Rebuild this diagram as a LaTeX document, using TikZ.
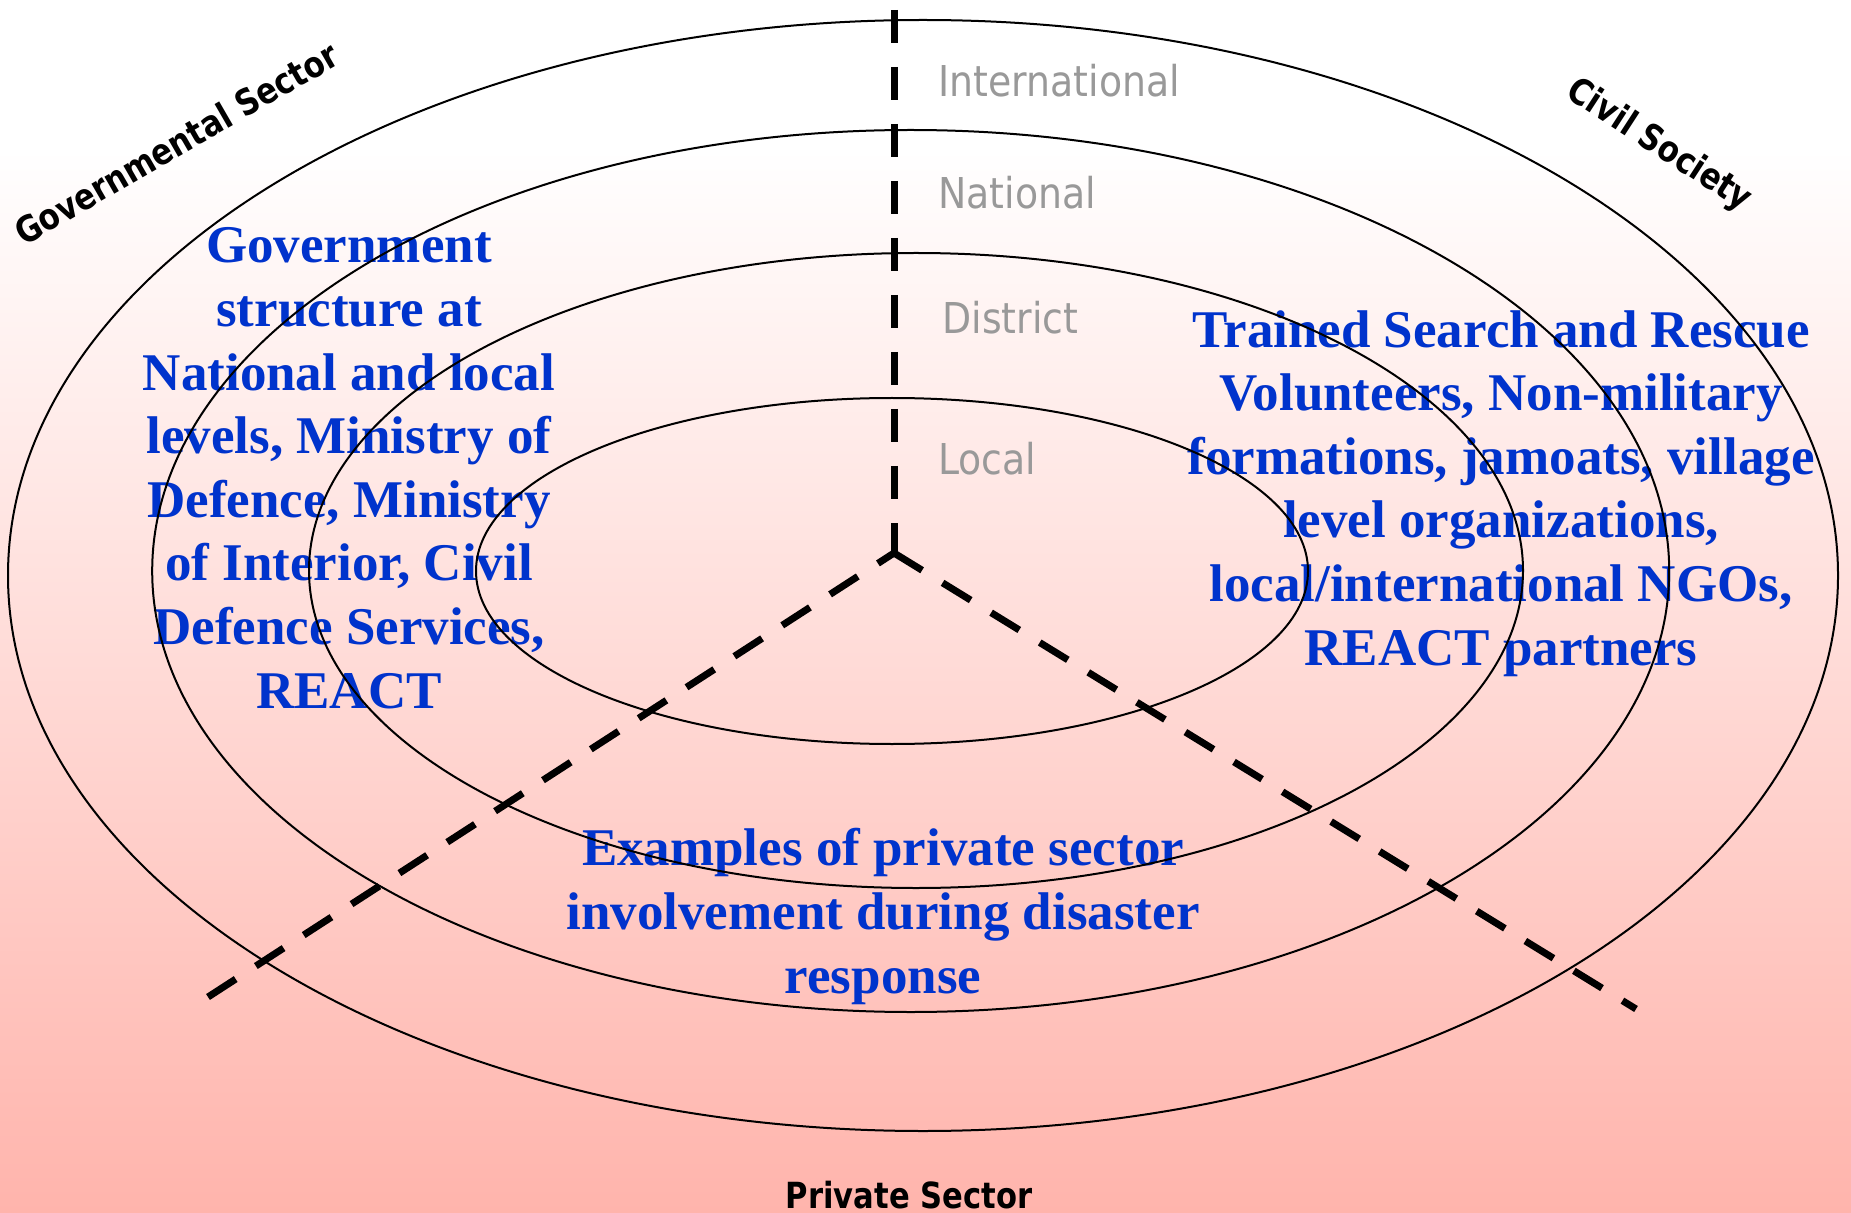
\documentclass[tikz,border=0pt]{standalone}
\usepackage{fontspec}
\setmainfont{Liberation Serif}
\newfontfamily\levelfont{DejaVu Sans}[FakeStretch=0.89]
\newfontfamily\sectorfont{DejaVu Sans}[FakeStretch=0.85]
\newfontfamily\bodyfont{Liberation Serif}
\definecolor{levelgray}{RGB}{153,153,153}
\definecolor{bodyblue}{RGB}{0,51,204}
\definecolor{pinkbase}{RGB}{255,180,172}
\tikzset{
  ring/.style={draw=black, line width=1pt},
  divider/.style={draw=black, line width=3.5pt, dash pattern=on 16.5pt off 12pt},
  levellabel/.style={anchor=base west, inner sep=0pt, text=levelgray,
    font=\levelfont\fontsize{21.25pt}{25pt}\selectfont},
  sectorlabel/.style={inner sep=0pt, text=black,
    font=\sectorfont\bfseries\fontsize{18pt}{22pt}\selectfont},
  % base anchor of a multi-line block sits on its last line
  bodytext/.style={anchor=base, inner sep=0pt, align=center, text=bodyblue,
    font=\bodyfont\bfseries\fontsize{26.5pt}{31.8pt}\selectfont}
}
\begin{document}
\begin{tikzpicture}[x=0.5pt, y=-0.5pt]
\useasboundingbox (0,0) rectangle (1851,1213);
% background: white at the top fading into salmon pink
\fill[white] (0,0) rectangle (1851,150);
\shade[top color=white, bottom color=pinkbase] (0,149) rectangle (1851,1213);

% sector descriptions
\node[bodytext] (gov) at (349,708) {Government\\structure at\\National and local\\levels, Ministry of\\Defence, Ministry\\of Interior, Civil\\Defence Services,\\REACT};
\node[bodytext] (civ) at (1501,665) {Trained Search and Rescue\\Volunteers, Non-military\\formations, jamoats, village\\level organizations,\\local/international NGOs,\\REACT partners};
\node[bodytext] (priv) at (883,993) {Examples of private sector\\involvement during disaster\\response};

% concentric levels
\draw[ring] (923,575.5) ellipse [x radius=915, y radius=555.5];
\draw[ring] (910.7,571) ellipse [x radius=758.5, y radius=441];
\draw[ring] (916,570.5) ellipse [x radius=607, y radius=317.5];
\draw[ring] (892,571) ellipse [x radius=416, y radius=173];

% level names
\node[levellabel] (intl) at (938,97) {International};
\node[levellabel] (natl) at (938,209) {National};
\node[levellabel] (dist) at (942,334) {District};
\node[levellabel] (locl) at (938,475) {Local};

% sector dividers
\coordinate (hub) at (894,553);
\coordinate (topend) at (894,10);
\coordinate (leftend) at (208,997);
\coordinate (rightend) at (1636,1009);
\draw[divider] (topend) -- (hub);
\draw[divider] (leftend) -- (hub);
\draw[divider] (hub) -- (rightend);

% sector names
\node[sectorlabel, rotate=30] (govname) at (176,143) {Governmental Sector};
\node[sectorlabel, rotate=-33] (civname) at (1659,146) {Civil Society};
\node[sectorlabel, anchor=base] (privname) at (909,1208) {Private Sector};
\end{tikzpicture}
\end{document}
